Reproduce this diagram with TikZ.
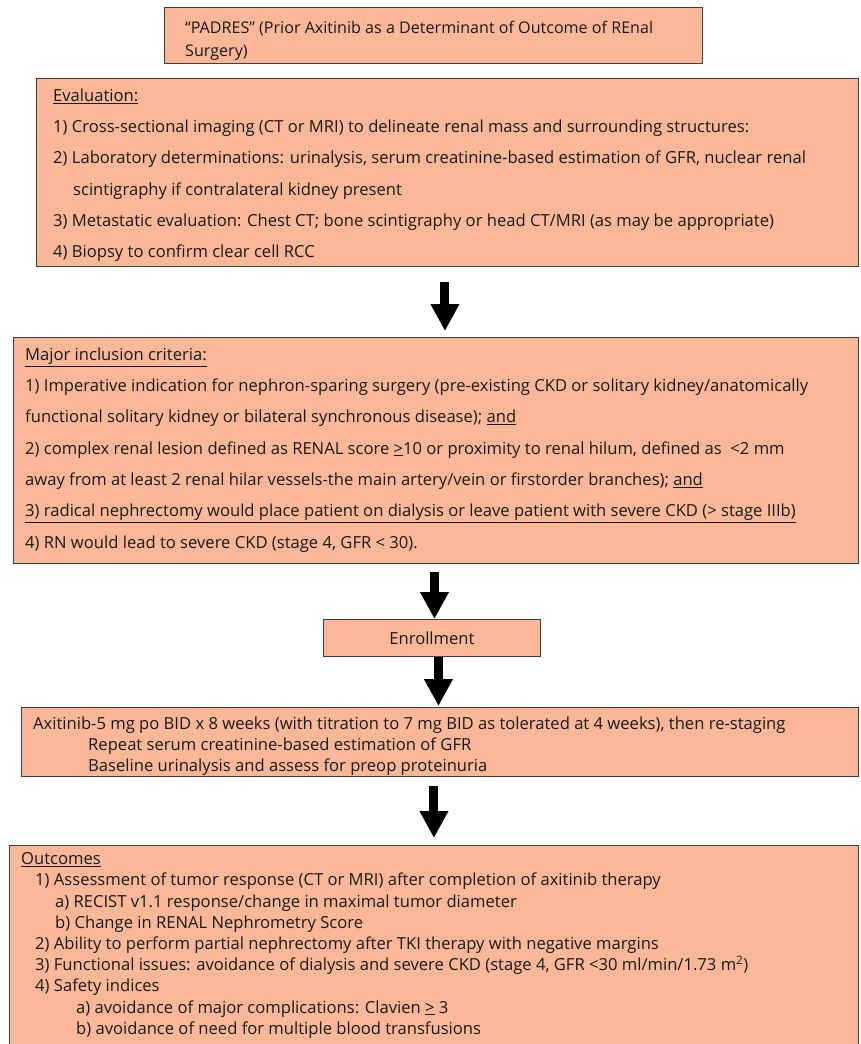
\documentclass[tikz,border=0pt]{standalone}
\usepackage{fontspec}
\setmainfont{Open Sans}
\usetikzlibrary{arrows.meta}
\definecolor{boxfill}{RGB}{251,184,153}
\definecolor{boxline}{RGB}{64,64,64}
\definecolor{textcol}{RGB}{25,25,25}
\tikzset{
  box/.style={draw=boxline, fill=boxfill, line width=0.9pt, inner sep=0pt, anchor=north west, text=textcol},
  boxtext/.style={anchor=north west, inner sep=0pt, align=left, text=textcol},
  bigarrow/.style={line width=9pt, -{Triangle[width=27pt,length=27pt]}}
}
\newcommand{\widefont}{\fontsize{16.6}{31.3}\selectfont}
\newcommand{\tightfont}{\fontsize{16.6}{21.2}\selectfont}
\begin{document}
\begin{tikzpicture}[x=1pt,y=-1pt]
  \useasboundingbox (0,0) rectangle (860,1044);

  % Title
  \node[box, minimum width=538pt, minimum height=56pt] (title) at (164,7) {};
  \node[boxtext, font=\fontsize{16.1}{23}\selectfont] (titletxt) at (185,21)
    {“PADRES” (Prior Axitinib as a Determinant of Outcome of REnal\\Surgery)};

  % Evaluation
  \node[box, minimum width=822pt, minimum height=188pt] (eval) at (36,78) {};
  \node[boxtext, font=\widefont] (evaltxt) at (53,88.5) {%
    \underline{Evaluation:}\\
    1) Cross-sectional imaging (CT or MRI) to delineate renal mass and surrounding structures:\\
    2) Laboratory determinations: urinalysis, serum creatinine-based estimation of GFR, nuclear renal\\
    \hspace*{20pt}scintigraphy if contralateral kidney present\\
    3) Metastatic evaluation: Chest CT; bone scintigraphy or head CT/MRI (as may be appropriate)\\
    4) Biopsy to confirm clear cell RCC};

  % Inclusion criteria
  \node[box, minimum width=845pt, minimum height=226pt] (major) at (13,337) {};
  \node[boxtext, font=\widefont] (majortxt) at (25,347.5) {%
    \underline{Major inclusion criteria:}\\
    1) Imperative indication for nephron-sparing surgery (pre-existing CKD or solitary kidney/anatomically\\
    functional solitary kidney or bilateral synchronous disease); \underline{and}\\
    2) complex renal lesion defined as RENAL score \underline{>}10 or proximity to renal hilum, defined as\ \ <2 mm\\
    away from at least 2 renal hilar vessels-the main artery/vein or firstorder branches); \underline{and}\\
    \underline{3) radical nephrectomy would place patient on dialysis or leave patient with severe CKD (> stage IIIb)}\\
    4) RN would lead to severe CKD (stage 4, GFR < 30).};

  % Enrollment
  \node[box, minimum width=217pt, minimum height=37pt, font=\fontsize{16.6}{19}\selectfont] (enroll) at (323,619) {Enrollment};

  % Treatment
  \node[box, minimum width=837pt, minimum height=69pt] (axit) at (21,707) {};
  \node[boxtext, font=\tightfont] (axittxt) at (33,716.5) {%
    Axitinib-5 mg po BID x 8 weeks (with titration to 7 mg BID as tolerated at 4 weeks), then re-staging\\
    \hspace*{55pt}Repeat serum creatinine-based estimation of GFR\\
    \hspace*{55pt}Baseline urinalysis and assess for preop proteinuria};

  % Outcomes
  \node[box, minimum width=849pt, minimum height=215pt] (outc) at (9,845) {};
  \node[boxtext, font=\tightfont] (outctxt) at (21,852.5) {%
    \underline{Outcomes}\\
    \hspace*{14pt}1) Assessment of tumor response (CT or MRI) after completion of axitinib therapy\\
    \hspace*{34pt}a) RECIST v1.1 response/change in maximal tumor diameter\\
    \hspace*{34pt}b) Change in RENAL Nephrometry Score\\
    \hspace*{14pt}2) Ability to perform partial nephrectomy after TKI therapy with negative margins\\
    \hspace*{14pt}3) Functional issues: avoidance of dialysis and severe CKD (stage 4, GFR <30 ml/min/1.73 m\textsuperscript{2})\\
    \hspace*{14pt}4) Safety indices\\
    \hspace*{55pt}a) avoidance of major complications: Clavien \underline{>} 3\\
    \hspace*{55pt}b) avoidance of need for multiple blood transfusions};

  % Arrows between the stages
  \draw[bigarrow, shorten <=15pt, shorten >=6pt] ([xshift=-2.5pt]eval.south) -- ([xshift=-2.5pt]eval.south |- major.north);
  \draw[bigarrow, shorten <=8pt] ([xshift=-1.5pt]major.south) -- ([xshift=-1.5pt]major.south |- enroll.north);
  \draw[bigarrow, shorten >=1pt] ([xshift=6.5pt]enroll.south) -- ([xshift=6.5pt]enroll.south |- axit.north);
  \draw[bigarrow, shorten <=9pt, shorten >=7pt] ([xshift=-6pt]axit.south) -- ([xshift=-6pt]axit.south |- outc.north);
\end{tikzpicture}
\end{document}
